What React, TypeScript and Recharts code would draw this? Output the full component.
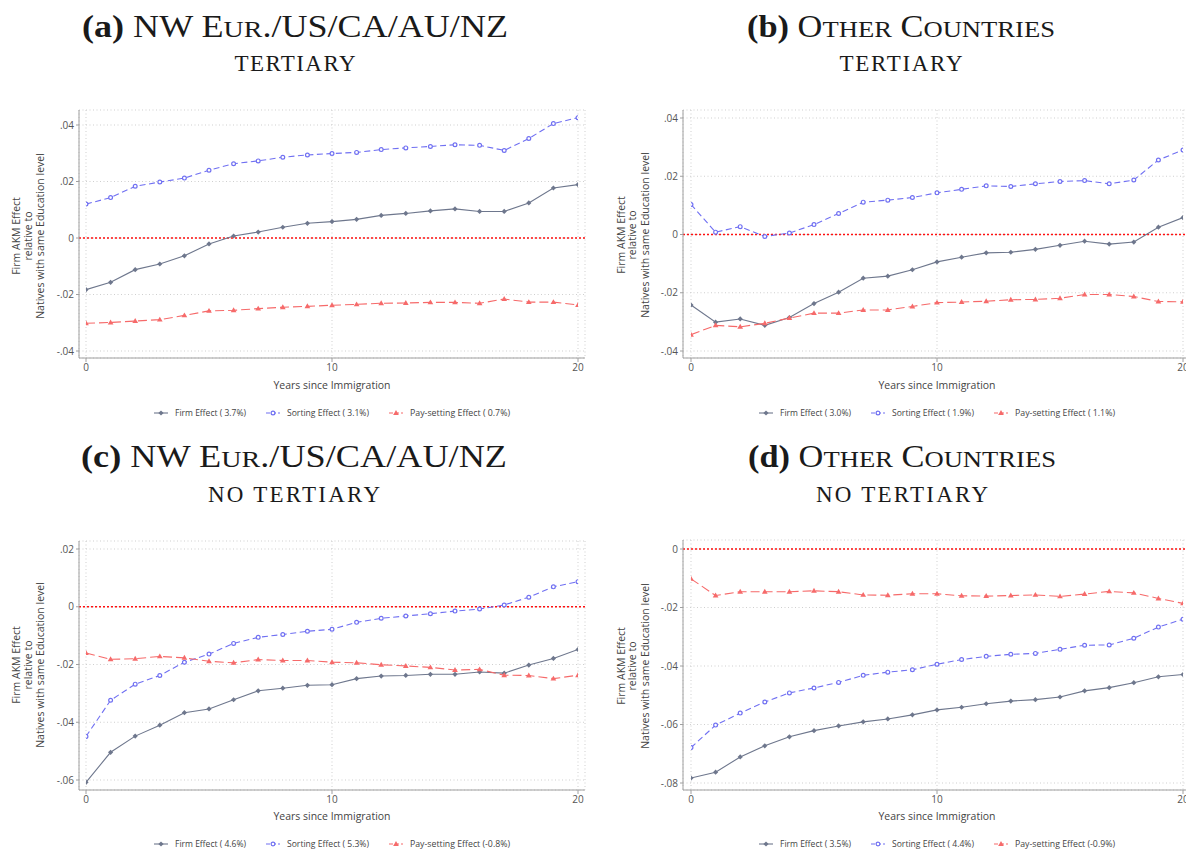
import React from 'react';
import { LineChart, Line, XAxis, YAxis, CartesianGrid, ReferenceLine } from 'recharts';

// Years since immigration (x categories)
const years = [0, 1, 2, 3, 4, 5, 6, 7, 8, 9, 10, 11, 12, 13, 14, 15, 16, 17, 18, 19, 20];
const xTicks = [0, 10, 20];

// (a) NW Eur./US/CA/AU/NZ, tertiary
const firmA = [-0.0183, -0.0157, -0.0112, -0.0092, -0.0063, -0.0021, 0.0007, 0.0021, 0.0038, 0.0052, 0.0058, 0.0066, 0.008, 0.0087, 0.0096, 0.0103, 0.0094, 0.0094, 0.0124, 0.0177, 0.0189];
const sortA = [0.012, 0.0143, 0.0183, 0.0198, 0.0212, 0.024, 0.0263, 0.0273, 0.0286, 0.0294, 0.0299, 0.0303, 0.0313, 0.0319, 0.0324, 0.033, 0.0328, 0.031, 0.0352, 0.0405, 0.0426];
const payA = [-0.0302, -0.0299, -0.0294, -0.0289, -0.0274, -0.0258, -0.0256, -0.025, -0.0245, -0.0242, -0.0238, -0.0235, -0.0231, -0.023, -0.0228, -0.0228, -0.0231, -0.0216, -0.0227, -0.0227, -0.0237];
const sharesA = [3.7, 3.1, 0.7];

// (b) Other countries, tertiary
const firmB = [-0.0242, -0.0301, -0.029, -0.0312, -0.0285, -0.0237, -0.0198, -0.015, -0.0143, -0.0121, -0.0094, -0.0078, -0.0063, -0.0061, -0.0051, -0.0037, -0.0023, -0.0033, -0.0026, 0.0025, 0.0058];
const sortB = [0.0103, 0.0008, 0.0027, -0.0007, 0.0005, 0.0034, 0.0072, 0.0111, 0.0118, 0.0127, 0.0143, 0.0155, 0.0167, 0.0165, 0.0174, 0.0182, 0.0185, 0.0174, 0.0187, 0.0256, 0.029];
const payB = [-0.0344, -0.0312, -0.0317, -0.0305, -0.0287, -0.027, -0.027, -0.0259, -0.0259, -0.0247, -0.0234, -0.0232, -0.0229, -0.0224, -0.0223, -0.0219, -0.0206, -0.0206, -0.0213, -0.023, -0.0231];
const sharesB = [3.0, 1.9, 1.1];

// (c) NW Eur./US/CA/AU/NZ, no tertiary
const firmC = [-0.0608, -0.0504, -0.0448, -0.041, -0.0367, -0.0354, -0.0322, -0.0291, -0.0282, -0.0272, -0.027, -0.0249, -0.024, -0.0238, -0.0234, -0.0234, -0.0226, -0.023, -0.0202, -0.0179, -0.0148];
const sortC = [-0.0449, -0.0324, -0.0268, -0.0238, -0.0192, -0.0164, -0.0127, -0.0106, -0.0096, -0.0085, -0.0078, -0.0054, -0.004, -0.0032, -0.0024, -0.0015, -0.0008, 0.0006, 0.0033, 0.0069, 0.0087];
const payC = [-0.016, -0.0182, -0.018, -0.0172, -0.0177, -0.0189, -0.0194, -0.0183, -0.0186, -0.0186, -0.0192, -0.0194, -0.0201, -0.0205, -0.021, -0.0219, -0.0217, -0.0237, -0.0238, -0.0249, -0.0237];
const sharesC = [4.6, 5.3, -0.8];

// (d) Other countries, no tertiary
const firmD = [-0.0783, -0.0763, -0.0711, -0.0673, -0.0642, -0.0621, -0.0605, -0.0591, -0.0581, -0.0567, -0.055, -0.0541, -0.0529, -0.052, -0.0515, -0.0506, -0.0485, -0.0474, -0.0457, -0.0437, -0.0429];
const sortD = [-0.0679, -0.0602, -0.0561, -0.0523, -0.0492, -0.0475, -0.0456, -0.0432, -0.0421, -0.0413, -0.0394, -0.0378, -0.0367, -0.036, -0.0357, -0.0343, -0.0329, -0.0328, -0.0305, -0.0267, -0.024];
const payD = [-0.0102, -0.0159, -0.0146, -0.0146, -0.0146, -0.0143, -0.0146, -0.0157, -0.0158, -0.0153, -0.0153, -0.016, -0.0161, -0.0159, -0.0157, -0.0162, -0.0154, -0.0145, -0.015, -0.0169, -0.0186];
const sharesD = [3.5, 4.4, -0.9];

const yTicksAB = [-0.04, -0.02, 0, 0.02, 0.04];
const yTicksC = [-0.06, -0.04, -0.02, 0, 0.02];
const yTicksD = [-0.08, -0.06, -0.04, -0.02, 0];

const seriesNames = ['Firm Effect', 'Sorting Effect', 'Pay-setting Effect'];
const yLabelLines = ['Firm AKM Effect', 'relative to', 'Natives with same Education level'];
const xTitle = 'Years since Immigration';

const SANS = '"Open Sans", "Noto Sans", sans-serif';
const SERIF = '"Liberation Serif", "DejaVu Serif", serif';

const COLORS = { firm: '#6e778d', sorting: '#7070f2', pay: '#f66a6a', zero: '#ff1010', axis: '#a0a0a0', grid: '#cfcfcf', text: '#555555' };

const X_AXIS_H = 20;

const fmtTick = (v: number) => {
  if (Math.abs(v) < 1e-9) return '0';
  return (v < 0 ? '-' : '') + Math.abs(v).toFixed(2).replace(/^0/, '');
};

const fmtShare = (v: number) => (v < 0 ? `(-${Math.abs(v).toFixed(1)}%)` : `( ${v.toFixed(1)}%)`);

const Diamond = ({ cx, cy, color, r = 2.6 }: any) => (
  <path d={`M${cx},${cy - r}L${cx + r},${cy}L${cx},${cy + r}L${cx - r},${cy}Z`} fill={color} />
);
const Ring = ({ cx, cy, color, r = 1.9 }: any) => (
  <circle cx={cx} cy={cy} r={r} fill="#ffffff" stroke={color} strokeWidth={1.2} />
);
const Tri = ({ cx, cy, color, r = 3 }: any) => (
  <path d={`M${cx},${cy - r}L${cx + r * 0.95},${cy + r * 0.65}L${cx - r * 0.95},${cy + r * 0.65}Z`} fill={color} />
);

const seriesStyles = [
  { key: 'firm', color: COLORS.firm, dash: undefined as string | undefined, Mark: Diamond },
  { key: 'sorting', color: COLORS.sorting, dash: '6 3.5', Mark: Ring },
  { key: 'pay', color: COLORS.pay, dash: '9 4', Mark: Tri },
];

type PanelCfg = {
  id: string;
  firm: number[];
  sorting: number[];
  pay: number[];
  shares: number[];
  yTicks: number[];
  left: number;
  top: number;
  width: number;
  height: number;
  margin: { top: number; right: number; bottom: number; left: number };
  xPad: { left: number; right: number };
  // blank space (px) above the top tick and below the bottom tick
  yGap: { top: number; bottom: number };
  plotCenterX: number;
  yLabelX: number[];
  yLabelCY: number;
  xTitleY: number;
  legendY: number;
  titleCX: number;
  titleY: number[];
  title: 'nw' | 'other';
  subtitle: string;
  subtitleWidth: number;
};

const panels: PanelCfg[] = [
  {
    id: 'a', firm: firmA, sorting: sortA, pay: payA, shares: sharesA, yTicks: yTicksAB,
    left: 0, top: 0, width: 593, height: 430,
    margin: { top: 110, right: 8, bottom: 52, left: 49 },
    xPad: { left: 7, right: 7 }, yGap: { top: 15, bottom: 7 },
    plotCenterX: 332, yLabelX: [19.5, 32, 43.7], yLabelCY: 236, xTitleY: 389, legendY: 413,
    titleCX: 295, titleY: [37, 71], title: 'nw', subtitle: 'TERTIARY', subtitleWidth: 121,
  },
  {
    id: 'b', firm: firmB, sorting: sortB, pay: payB, shares: sharesB, yTicks: yTicksAB,
    left: 593, top: 0, width: 600, height: 430,
    margin: { top: 110, right: 3, bottom: 52, left: 60 },
    xPad: { left: 8, right: 7 }, yGap: { top: 8, bottom: 7 },
    plotCenterX: 937, yLabelX: [624.5, 636, 648.7], yLabelCY: 235, xTitleY: 389, legendY: 413,
    titleCX: 901, titleY: [37, 71], title: 'other', subtitle: 'TERTIARY', subtitleWidth: 123,
  },
  {
    id: 'c', firm: firmC, sorting: sortC, pay: payC, shares: sharesC, yTicks: yTicksC,
    left: 0, top: 430, width: 593, height: 430,
    margin: { top: 111, right: 8, bottom: 50, left: 49 },
    xPad: { left: 7, right: 7 }, yGap: { top: 8, bottom: 10 },
    plotCenterX: 332, yLabelX: [19.5, 32, 43.7], yLabelCY: 665, xTitleY: 820, legendY: 844,
    titleCX: 294, titleY: [467, 502], title: 'nw', subtitle: 'NO TERTIARY', subtitleWidth: 172,
  },
  {
    id: 'd', firm: firmD, sorting: sortD, pay: payD, shares: sharesD, yTicks: yTicksD,
    left: 593, top: 430, width: 600, height: 430,
    margin: { top: 110, right: 3, bottom: 50, left: 60 },
    xPad: { left: 8, right: 7 }, yGap: { top: 9, bottom: 7 },
    plotCenterX: 937, yLabelX: [624.5, 636, 648.7], yLabelCY: 666, xTitleY: 820, legendY: 844,
    titleCX: 902, titleY: [467, 502], title: 'other', subtitle: 'NO TERTIARY', subtitleWidth: 172,
  },
];

// Widen the value domain so that the outer ticks sit the requested number of
// pixels inside the plot frame (points beyond the outer ticks stay visible).
function paddedDomain(cfg: PanelCfg): [number, number] {
  const t0 = cfg.yTicks[0];
  const t1 = cfg.yTicks[cfg.yTicks.length - 1];
  const plotH = cfg.height - cfg.margin.top - cfg.margin.bottom - X_AXIS_H;
  const perUnit = (plotH - cfg.yGap.top - cfg.yGap.bottom) / (t1 - t0);
  return [t0 - cfg.yGap.bottom / perUnit, t1 + cfg.yGap.top / perUnit];
}

function Panel({ cfg }: { cfg: PanelCfg }) {
  const data = years.map((yr, i) => ({ year: yr, firm: cfg.firm[i], sorting: cfg.sorting[i], pay: cfg.pay[i] }));
  return (
    <div style={{ position: 'absolute', left: cfg.left, top: cfg.top }}>
      <LineChart width={cfg.width} height={cfg.height} data={data} margin={cfg.margin}>
        <CartesianGrid stroke={COLORS.grid} strokeDasharray="1 2.5" />
        <XAxis
          type="number"
          dataKey="year"
          domain={[0, 20]}
          ticks={xTicks}
          padding={cfg.xPad}
          height={X_AXIS_H}
          tickSize={4}
          tickMargin={2}
          stroke={COLORS.axis}
          tick={{ fill: COLORS.text, fontSize: 10, fontFamily: SANS }}
          allowDataOverflow
        />
        <YAxis
          type="number"
          domain={paddedDomain(cfg)}
          ticks={cfg.yTicks}
          width={30}
          tickSize={3}
          tickMargin={2}
          tickFormatter={fmtTick}
          stroke={COLORS.axis}
          tick={{ fill: COLORS.text, fontSize: 10, fontFamily: SANS }}
          allowDataOverflow
        />
        <ReferenceLine y={0} stroke={COLORS.zero} strokeDasharray="2 2" strokeWidth={1.4} />
        {seriesStyles.map((s) => (
          <Line
            key={s.key}
            dataKey={s.key}
            type="linear"
            stroke={s.color}
            strokeWidth={1.1}
            strokeDasharray={s.dash}
            isAnimationActive={false}
            dot={(p: any) => <s.Mark key={`${s.key}-${p.index}`} cx={p.cx} cy={p.cy} color={s.color} />}
            activeDot={false}
          />
        ))}
      </LineChart>
    </div>
  );
}

function Title({ cfg }: { cfg: PanelCfg }) {
  const small = 24;
  const line1 =
    cfg.title === 'nw' ? (
      <text x={cfg.titleCX - 213} y={cfg.titleY[0]} fontFamily={SERIF} fontSize={31} fill="#1a1a1a" textLength={426} lengthAdjust="spacingAndGlyphs">
        <tspan fontWeight="bold">({cfg.id})</tspan>
        <tspan> NW E</tspan>
        <tspan fontSize={small}>UR</tspan>
        <tspan>./US/CA/AU/NZ</tspan>
      </text>
    ) : (
      <text x={cfg.titleCX - 154} y={cfg.titleY[0]} fontFamily={SERIF} fontSize={31} fill="#1a1a1a" textLength={308} lengthAdjust="spacingAndGlyphs">
        <tspan fontWeight="bold">({cfg.id})</tspan>
        <tspan> O</tspan>
        <tspan fontSize={small}>THER</tspan>
        <tspan> C</tspan>
        <tspan fontSize={small}>OUNTRIES</tspan>
      </text>
    );
  return (
    <g>
      {line1}
      <text
        x={cfg.titleCX - cfg.subtitleWidth / 2}
        y={cfg.titleY[1]}
        fontFamily={SERIF}
        fontSize={23}
        fill="#1a1a1a"
        textLength={cfg.subtitleWidth}
        lengthAdjust="spacing"
      >
        {cfg.subtitle}
      </text>
    </g>
  );
}

function Annotations({ cfg }: { cfg: PanelCfg }) {
  const sampleOffsets = [-178, -66, 57];
  const textWidths = [71, 82, 100];
  return (
    <g>
      {yLabelLines.map((t, i) => (
        <text
          key={t}
          transform={`translate(${cfg.yLabelX[i]},${cfg.yLabelCY}) rotate(-90)`}
          textAnchor="middle"
          fontFamily={SANS}
          fontSize={10.5}
          fill="#444"
        >
          {t}
        </text>
      ))}
      <text x={cfg.plotCenterX} y={cfg.xTitleY} textAnchor="middle" fontFamily={SANS} fontSize={11} fill="#444" textLength={117} lengthAdjust="spacingAndGlyphs">
        {xTitle}
      </text>
      {seriesStyles.map((s, i) => {
        const x0 = cfg.plotCenterX + sampleOffsets[i];
        const y = cfg.legendY;
        return (
          <g key={s.key}>
            <line x1={x0} x2={x0 + 14} y1={y} y2={y} stroke={s.color} strokeWidth={1.1} strokeDasharray={s.dash ? '4 2' : undefined} />
            <s.Mark cx={x0 + 7} cy={y} color={s.color} />
            <text x={x0 + 21} y={y + 3.2} fontFamily={SANS} fontSize={9} fill="#444" textLength={textWidths[i]} lengthAdjust="spacingAndGlyphs">
              {`${seriesNames[i]} ${fmtShare(cfg.shares[i])}`}
            </text>
          </g>
        );
      })}
    </g>
  );
}

export default function App() {
  return (
    <div style={{ position: 'absolute', left: 0, top: 0, width: 1186, height: 850, overflow: 'hidden', background: '#ffffff' }}>
      {panels.map((p) => (
        <Panel key={p.id} cfg={p} />
      ))}
      <svg width={1186} height={850} style={{ position: 'absolute', left: 0, top: 0, pointerEvents: 'none' }}>
        {panels.map((p) => (
          <g key={p.id}>
            <Title cfg={p} />
            <Annotations cfg={p} />
          </g>
        ))}
      </svg>
    </div>
  );
}
